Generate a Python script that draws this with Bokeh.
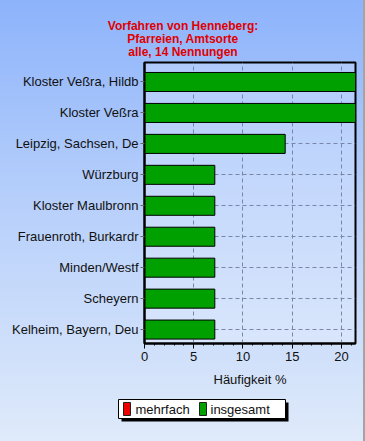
from bokeh.plotting import figure
from bokeh.layouts import column
from bokeh.models import Range1d, FixedTicker, ColumnDataSource
from bokeh.core.properties import value
from bokeh.embed import file_html
from bokeh.resources import INLINE

# ---- data ----
categories = ["Kloster Veßra, Hildb", "Kloster Veßra", "Leipzig, Sachsen, De",
              "Würzburg", "Kloster Maulbronn", "Frauenroth, Burkardr",
              "Minden/Westf", "Scheyern", "Kelheim, Bayern, Deu"]
insgesamt = [21.43, 21.43, 14.29, 7.14, 7.14, 7.14, 7.14, 7.14, 7.14]
mehrfach = [0, 0, 0, 0, 0, 0, 0, 0, 0]
x_ticks = [0, 5, 10, 15, 20]
title_lines = ["Vorfahren von Henneberg:", "Pfarreien, Amtsorte", "alle, 14 Nennungen"]
x_label = "Häufigkeit %"
legend_labels = ["mehrfach", "insgesamt"]
legend_colors = ["#ee0000", "#00a000"]

FONT = "Liberation Sans"
W = 363
H_TITLE, H_MAIN, H_LEG = 60, 335, 44

n = len(categories)
ypos = [n - 1 - i for i in range(n)]  # first category on top


def blank(h):
    f = figure(width=W, height=h, output_backend="svg", toolbar_location=None,
               x_range=Range1d(0, W), y_range=Range1d(h, 0),
               x_axis_type=None, y_axis_type=None, min_border=0)
    f.grid.visible = False
    f.outline_line_color = None
    f.background_fill_alpha = 0
    f.border_fill_alpha = 0
    f.frame_align = False
    return f


# ---- title ----
pt = blank(H_TITLE)
pt.text(x=[182.5] * 3, y=[25, 38, 51], text=title_lines,
        text_align="center", text_baseline="middle",
        text_font=value(FONT), text_font_size="12px", text_font_style="bold",
        text_color="#e00000")

# ---- main chart ----
p = figure(width=W, height=H_MAIN, output_backend="svg", toolbar_location=None,
           y_range=Range1d(-0.45, n - 1 + 0.63),
           x_range=Range1d(0, max(insgesamt)),
           min_border_left=144, min_border_right=8,
           min_border_top=2, min_border_bottom=52)
p.frame_align = False
p.background_fill_color = "white"
p.background_fill_alpha = 0.22
p.border_fill_alpha = 0.0
p.outline_line_color = "black"
p.outline_line_width = 2

src = ColumnDataSource(dict(y=ypos, ins=insgesamt, meh=mehrfach))
p.hbar(y="y", right="ins", left=0, height=0.615, source=src,
       fill_color=legend_colors[1], line_color="black", line_width=1)
p.hbar(y="y", right="meh", left=0, height=0.615, source=src,
       fill_color=legend_colors[0], line_color="black", line_width=1, line_alpha=0)

p.xaxis.ticker = FixedTicker(ticks=x_ticks, minor_ticks=list(range(0, 22)))
p.yaxis.ticker = FixedTicker(ticks=ypos, minor_ticks=[])
p.yaxis.major_label_overrides = {yv: c for yv, c in zip(ypos, categories)}
p.yaxis.minor_tick_line_color = None
p.xaxis.axis_label = x_label
for ax in (p.xaxis[0], p.yaxis[0]):
    ax.major_label_text_font = FONT
    ax.major_label_text_font_size = "13px"
    ax.major_label_text_color = "#111111"
    ax.axis_line_width = 2
    ax.axis_line_color = "black"
p.xaxis.axis_label_text_font = FONT
p.xaxis.axis_label_text_font_size = "13px"
p.xaxis.axis_label_text_font_style = "normal"
p.xaxis.axis_label_text_color = "#111111"
p.xaxis.axis_label_standoff = 8
p.xaxis.major_tick_out = 5
p.xaxis.major_tick_in = 0
p.xaxis.minor_tick_out = 2
p.xaxis.minor_tick_in = 0
p.xaxis.major_label_standoff = 3
p.yaxis.major_tick_out = 4
p.yaxis.major_tick_in = 0
p.yaxis.major_tick_line_color = "#666666"
p.yaxis.major_label_standoff = 2

p.xgrid.ticker = FixedTicker(ticks=x_ticks)
p.ygrid.ticker = FixedTicker(ticks=ypos)
for g in (p.xgrid[0], p.ygrid[0]):
    g.grid_line_color = "#7886a8"
    g.grid_line_dash = "4 3"
    g.grid_line_width = 1

# ---- legend ----
pl = blank(H_LEG)
pl.quad(left=[121], right=[288], top=[7], bottom=[26], fill_color="black", line_alpha=0)
pl.quad(left=[118], right=[285], top=[4], bottom=[23], fill_color="white",
        line_color="black", line_width=1)
pl.quad(left=[123, 199], right=[130, 206], top=[7, 7], bottom=[20, 20],
        fill_color=legend_colors, line_color="#222222", line_width=1)
pl.text(x=[135, 210], y=[13.5, 13.5], text=legend_labels,
        text_align="left", text_baseline="middle",
        text_font=value(FONT), text_font_size="13px", text_color="#111111")

layout = column(pt, p, pl, spacing=0)

html = file_html(layout, INLINE)
css = ("<style>html{background:#a4a4a4;}body{margin:0;width:363px;height:439px;"
       "background:linear-gradient(to bottom,#8db3fb 0%,#b6cffb 45%,#dfeafa 100%);}</style>")
html = html.replace("<head>", "<head>" + css, 1)
open("out.html", "w").write(html)
